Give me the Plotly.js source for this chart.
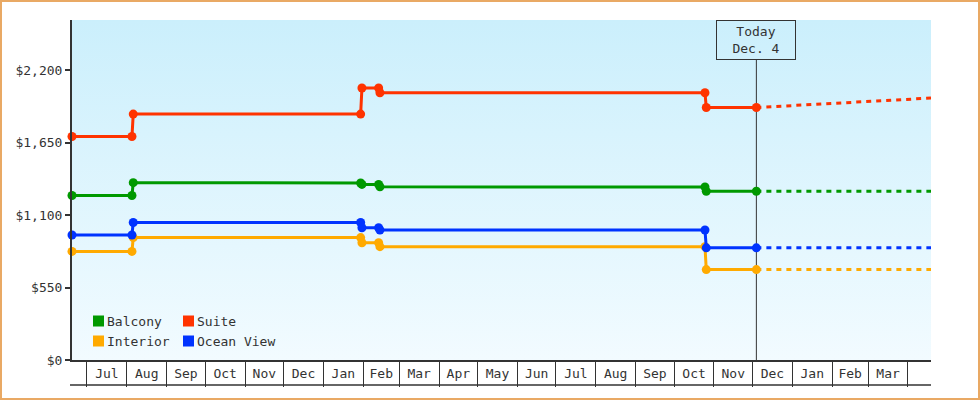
<!DOCTYPE html>
<html><head><meta charset="utf-8">
<script src="https://cdn.plot.ly/plotly-3.0.1.min.js"></script>
<style>
html,body{margin:0;padding:0;background:#fff;}
#wrap{position:relative;width:980px;height:400px;overflow:hidden;}
#bg{position:absolute;left:72px;top:20px;width:859px;height:340px;background:linear-gradient(to bottom,#cbeffc,#f2fbff);}
#chart{position:absolute;left:0;top:0;width:980px;height:400px;}
#frame{position:absolute;left:0;top:0;width:980px;height:400px;box-sizing:border-box;border:2px solid #e9a964;pointer-events:none;}
</style></head>
<body><div id="wrap"><div id="bg"></div><div id="chart"></div><div id="frame"></div></div>
<script>
// ---- data ----
const seriesNames = ['Balcony', 'Suite', 'Interior', 'Ocean View'];
const seriesColors = ['#009900', '#ff3300', '#ffaa00', '#0033ff'];
const priceDates = ['2013-06-19 08:00', '2013-08-05', '2013-08-06', '2014-01-30', '2014-01-31',
                    '2014-02-13', '2014-02-14', '2014-10-25', '2014-10-26', '2014-12-04'];
const balconyPrices   = [1250, 1250, 1347, 1345, 1334, 1334, 1316, 1314, 1282, 1282];
const suitePrices     = [1698, 1698, 1868, 1868, 2066, 2066, 2030, 2030, 1918, 1918];
const interiorPrices  = [825, 825, 930, 930, 891, 891, 861, 861, 687, 687];
const oceanViewPrices = [950, 950, 1045, 1045, 1005, 1005, 988, 988, 852, 852];
const forecastDates = ['2014-12-04', '2015-04-18 22:00'];
const balconyForecast   = [1282, 1282];
const suiteForecast     = [1918, 1990];
const interiorForecast  = [687, 687];
const oceanViewForecast = [852, 852];
const todayDate = '2014-12-04';
const todayLabel = ['Today', 'Dec. 4'];
const monthStarts = ['2013-07-01','2013-08-01','2013-09-01','2013-10-01','2013-11-01','2013-12-01',
                     '2014-01-01','2014-02-01','2014-03-01','2014-04-01','2014-05-01','2014-06-01',
                     '2014-07-01','2014-08-01','2014-09-01','2014-10-01','2014-11-01','2014-12-01',
                     '2015-01-01','2015-02-01','2015-03-01','2015-04-01'];
const monthLabels = ['Jul','Aug','Sep','Oct','Nov','Dec','Jan','Feb','Mar','Apr','May','Jun',
                     'Jul','Aug','Sep','Oct','Nov','Dec','Jan','Feb','Mar'];
const yTickVals = [0, 550, 1100, 1650, 2200];
const yTickText = ['$0', '$550', '$1,100', '$1,650', '$2,200'];
const xRange = ['2013-06-19 08:00', '2015-04-18 22:00'];
const yRange = [0, 2583];

// ---- build ----
const FONT = 'DejaVu Sans Mono, monospace';
const TXT = '#333';
const pricesBySeries = {Balcony: balconyPrices, Suite: suitePrices, Interior: interiorPrices, 'Ocean View': oceanViewPrices};
const forecastBySeries = {Balcony: balconyForecast, Suite: suiteForecast, Interior: interiorForecast, 'Ocean View': oceanViewForecast};
const drawOrder = ['Interior', 'Balcony', 'Ocean View', 'Suite'];
const colorOf = n => seriesColors[seriesNames.indexOf(n)];

const traces = [];
drawOrder.forEach(n => {
  traces.push({x: forecastDates, y: forecastBySeries[n], mode: 'lines', type: 'scatter',
    line: {color: colorOf(n), width: 3, dash: '5px,5px'}, showlegend: false, hoverinfo: 'skip'});
});
drawOrder.forEach(n => {
  traces.push({x: priceDates, y: pricesBySeries[n], name: n, mode: 'lines+markers', type: 'scatter',
    line: {color: colorOf(n), width: 3}, marker: {color: colorOf(n), size: 9, symbol: 'circle'},
    cliponaxis: false, showlegend: false});
});

const toMs = d => new Date(d.replace(' ', 'T') + (d.length > 10 ? ':00Z' : 'T00:00:00Z')).getTime();
const mids = [];
for (let i = 0; i < monthLabels.length; i++) {
  const m = (toMs(monthStarts[i]) + toMs(monthStarts[i + 1])) / 2;
  mids.push(new Date(m).toISOString().slice(0, 19).replace('T', ' '));
}

// plot area in px: left 72, right 931, top 20, bottom 360
const PL = 72, PW = 859, PT = 20, PH = 340;
const px = x => (x - PL) / PW;
const py = y => (PT + PH - y) / PH;

const shapes = [];
const annotations = [];
// today marker line
shapes.push({type: 'line', xref: 'x', yref: 'paper', x0: todayDate, x1: todayDate, y0: 0, y1: py(60),
  line: {color: '#333', width: 1}, layer: 'below'});
annotations.push({xref: 'x', yref: 'paper', x: todayDate, y: 1, yanchor: 'top', xanchor: 'center',
  text: todayLabel.join('<br>'), showarrow: false, font: {family: FONT, size: 13, color: TXT},
  bordercolor: '#333', borderwidth: 1, borderpad: 0, width: 78, height: 38, align: 'center'});
// bottom rule under month cells
shapes.push({type: 'line', xref: 'paper', yref: 'paper', x0: px(70), x1: 1, y0: py(385), y1: py(385),
  line: {color: '#333', width: 1.5}});
// legend (2 x 2)
const legendCols = [93, 183];
const legendRows = [321, 341];
seriesNames.forEach((n, i) => {
  const cx = legendCols[i % 2], cy = legendRows[Math.floor(i / 2)];
  shapes.push({type: 'rect', xref: 'paper', yref: 'paper', x0: px(cx), x1: px(cx + 11),
    y0: py(cy - 5.5), y1: py(cy + 5.5), fillcolor: seriesColors[i], line: {width: 0}});
  annotations.push({xref: 'paper', yref: 'paper', x: px(cx + 13), y: py(cy), xanchor: 'left', yanchor: 'middle',
    text: n, showarrow: false, borderpad: 0, font: {family: FONT, size: 13, color: TXT}});
});

const layout = {
  width: 980, height: 400,
  margin: {l: PL, r: 980 - PL - PW, t: PT, b: 400 - PT - PH, pad: 0},
  paper_bgcolor: 'rgba(0,0,0,0)', plot_bgcolor: 'rgba(0,0,0,0)',
  showlegend: false, hovermode: false,
  xaxis: {type: 'date', range: xRange, showgrid: false, zeroline: false,
    showline: true, linecolor: '#333', linewidth: 2,
    ticks: '', tickmode: 'array', tickvals: mids, ticktext: monthLabels,
    tickfont: {family: FONT, size: 13, color: TXT},
    minor: {tickmode: 'array', tickvals: monthStarts, ticks: 'outside', ticklen: 25, tickwidth: 1, tickcolor: '#333', showgrid: false},
    fixedrange: true},
  yaxis: {range: yRange, showgrid: false, zeroline: false,
    showline: true, linecolor: '#333', linewidth: 2,
    ticks: 'outside', ticklen: 5, tickwidth: 2, tickcolor: '#333',
    tickmode: 'array', tickvals: yTickVals, ticktext: yTickText,
    tickfont: {family: FONT, size: 13, color: TXT}, fixedrange: true},
  shapes: shapes, annotations: annotations
};
Plotly.newPlot('chart', traces, layout, {displayModeBar: false, staticPlot: true});
</script>
</body></html>
